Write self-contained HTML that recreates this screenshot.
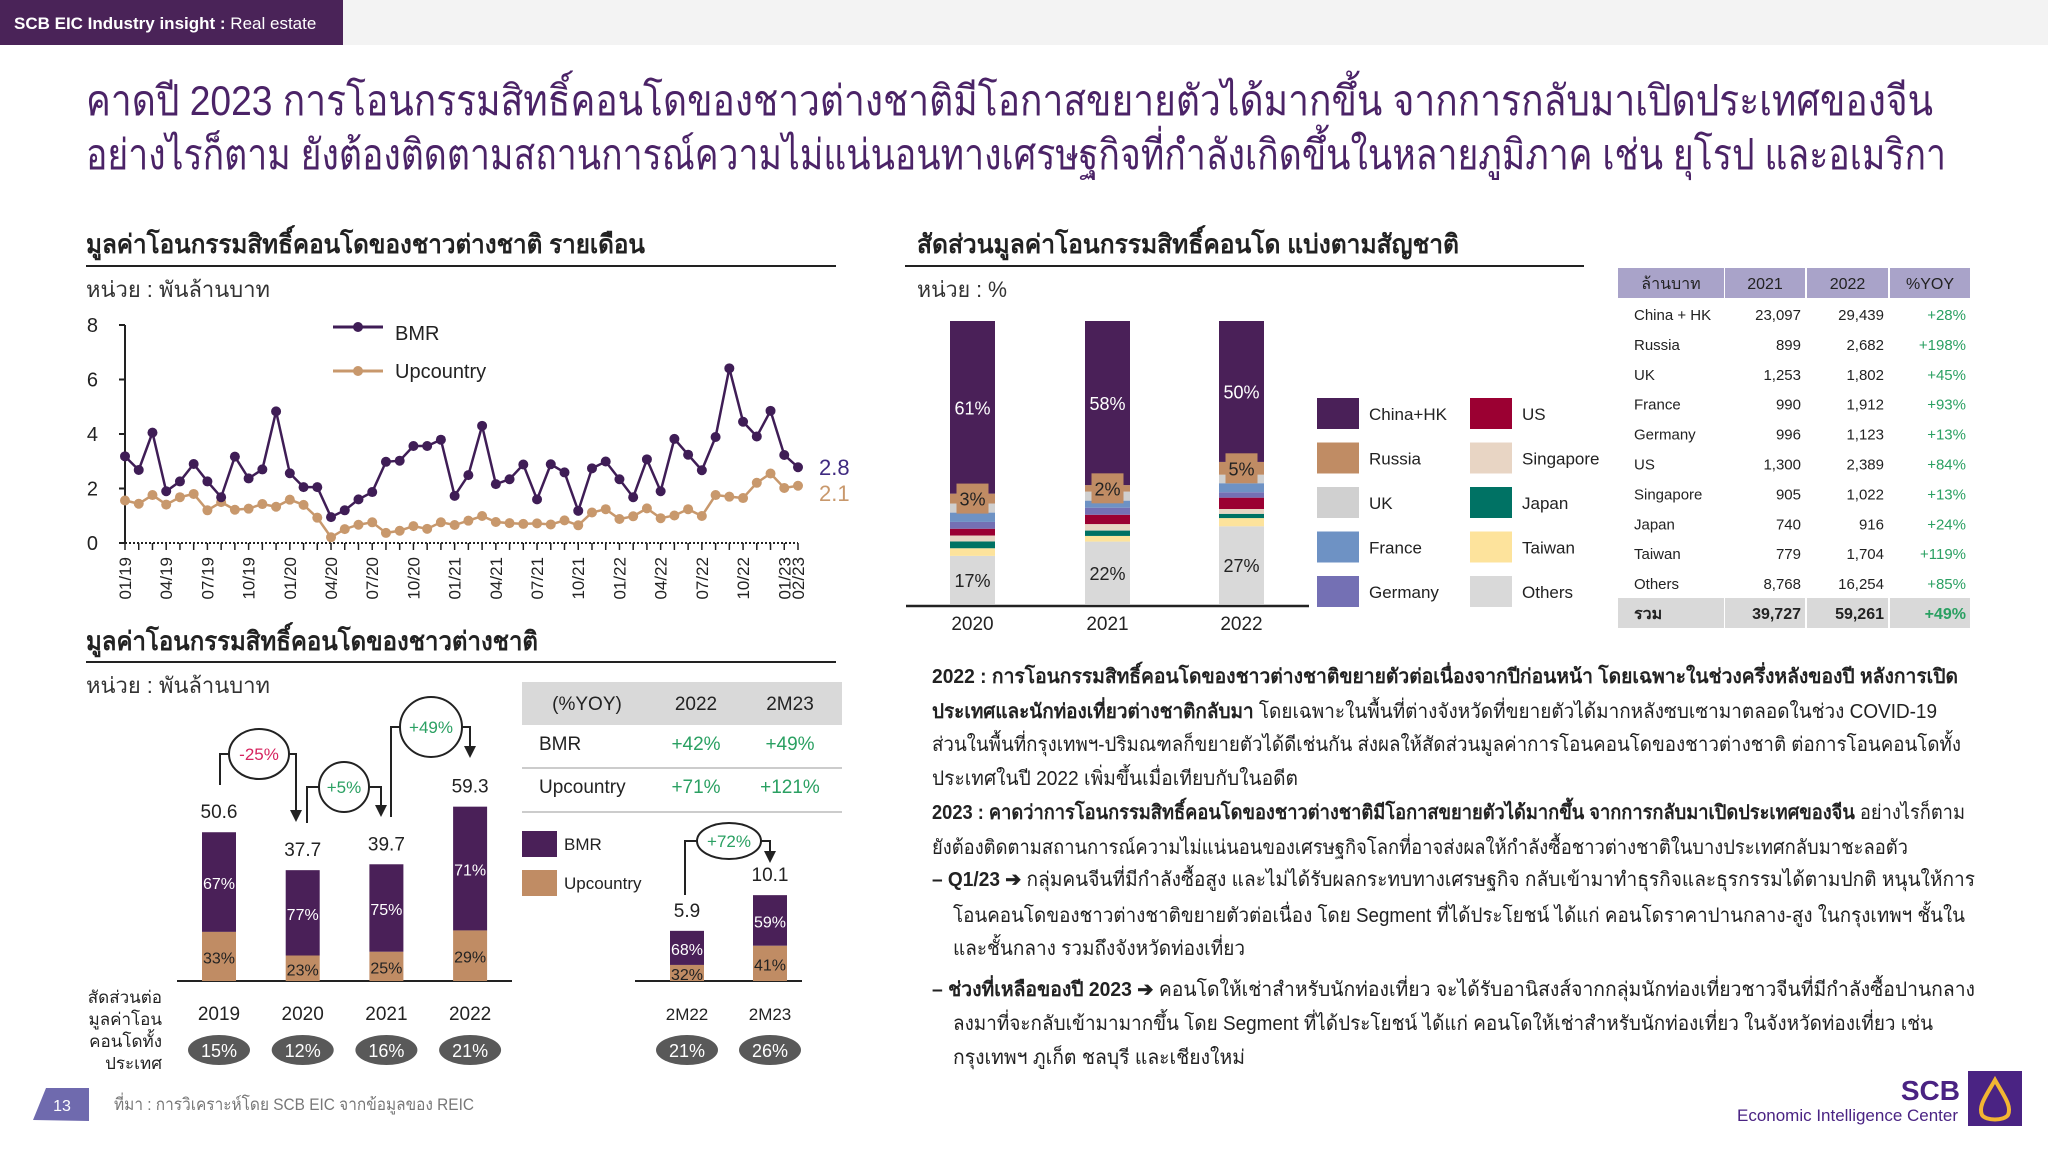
<!DOCTYPE html>
<html><head><meta charset="utf-8">
<style>
html,body{margin:0;padding:0;background:#fff;}
svg{display:block;font-family:"Liberation Sans","Noto Sans CJK SC",sans-serif;}
</style></head>
<body>
<svg id="page" width="2048" height="1152" viewBox="0 0 2048 1152" xmlns="http://www.w3.org/2000/svg">
<rect width="2048" height="1152" fill="#fff"/>
<rect x="0" y="0" width="2048" height="45" fill="#f3f3f3"/>
<rect x="0" y="0" width="343" height="45" fill="#4a2358"/>
<text x="14" y="29" font-size="17" fill="#fff"><tspan font-weight="bold">SCB EIC Industry insight : </tspan>Real estate</text>

<g fill="#4b2367" font-size="42">
<text x="86" y="115" textLength="1847" lengthAdjust="spacingAndGlyphs">คาดปี 2023 การโอนกรรมสิทธิ์คอนโดของชาวต่างชาติมีโอกาสขยายตัวได้มากขึ้น จากการกลับมาเปิดประเทศของจีน</text>
<text x="86" y="169" textLength="1860" lengthAdjust="spacingAndGlyphs">อย่างไรก็ตาม ยังต้องติดตามสถานการณ์ความไม่แน่นอนทางเศรษฐกิจที่กำลังเกิดขึ้นในหลายภูมิภาค เช่น ยุโรป และอเมริกา</text>
</g>

<text x="86" y="253" font-size="26" font-weight="bold" fill="#222" textLength="559" lengthAdjust="spacingAndGlyphs">มูลค่าโอนกรรมสิทธิ์คอนโดของชาวต่างชาติ รายเดือน</text>
<line x1="86" y1="266" x2="836" y2="266" stroke="#222" stroke-width="2"/>
<text x="86" y="297" font-size="22" fill="#333" textLength="184" lengthAdjust="spacingAndGlyphs">หน่วย : พันล้านบาท</text>

<text x="86" y="650" font-size="26" font-weight="bold" fill="#222" textLength="452" lengthAdjust="spacingAndGlyphs">มูลค่าโอนกรรมสิทธิ์คอนโดของชาวต่างชาติ</text>
<line x1="86" y1="662" x2="836" y2="662" stroke="#222" stroke-width="2"/>
<text x="86" y="693" font-size="22" fill="#333" textLength="184" lengthAdjust="spacingAndGlyphs">หน่วย : พันล้านบาท</text>

<text x="917" y="253" font-size="26" font-weight="bold" fill="#222" textLength="542" lengthAdjust="spacingAndGlyphs">สัดส่วนมูลค่าโอนกรรมสิทธิ์คอนโด แบ่งตามสัญชาติ</text>
<line x1="905" y1="266" x2="1584" y2="266" stroke="#222" stroke-width="2"/>
<text x="917" y="297" font-size="22" fill="#333" textLength="90" lengthAdjust="spacingAndGlyphs">หน่วย : %</text>

<g id="lineChart"></g>
<g id="barChart"></g>
<g id="stackChart"></g>
<g id="natTable"></g>

<g font-size="19" fill="#222">
<rect x="522" y="682" width="320" height="43" fill="#d9d9d9"/>
<text x="587" y="710" text-anchor="middle">(%YOY)</text>
<text x="696" y="710" text-anchor="middle">2022</text>
<text x="790" y="710" text-anchor="middle">2M23</text>
<text x="539" y="750">BMR</text>
<text x="696" y="750" text-anchor="middle" fill="#2aa062">+42%</text>
<text x="790" y="750" text-anchor="middle" fill="#2aa062">+49%</text>
<line x1="522" y1="768" x2="842" y2="768" stroke="#ccc" stroke-width="2"/>
<text x="539" y="793">Upcountry</text>
<text x="696" y="793" text-anchor="middle" fill="#2aa062">+71%</text>
<text x="790" y="793" text-anchor="middle" fill="#2aa062">+121%</text>
<line x1="522" y1="812" x2="842" y2="812" stroke="#ccc" stroke-width="2"/>
</g>
<g font-size="17" fill="#222">
<rect x="522" y="831" width="35" height="26" fill="#4a2058"/><text x="564" y="850">BMR</text>
<rect x="522" y="870" width="35" height="26" fill="#c08c64"/><text x="564" y="889">Upcountry</text>
</g>

<g id="commentary" font-size="20" fill="#222">
<text x="932" y="683" textLength="1026" lengthAdjust="spacingAndGlyphs"><tspan font-weight="bold">2022 : การโอนกรรมสิทธิ์คอนโดของชาวต่างชาติขยายตัวต่อเนื่องจากปีก่อนหน้า โดยเฉพาะในช่วงครึ่งหลังของปี หลังการเปิด</tspan></text>
<text x="932" y="718" textLength="1005" lengthAdjust="spacingAndGlyphs"><tspan font-weight="bold">ประเทศและนักท่องเที่ยวต่างชาติกลับมา</tspan> โดยเฉพาะในพื้นที่ต่างจังหวัดที่ขยายตัวได้มากหลังซบเซามาตลอดในช่วง COVID-19</text>
<text x="932" y="751" textLength="1029" lengthAdjust="spacingAndGlyphs">ส่วนในพื้นที่กรุงเทพฯ-ปริมณฑลก็ขยายตัวได้ดีเช่นกัน ส่งผลให้สัดส่วนมูลค่าการโอนคอนโดของชาวต่างชาติ ต่อการโอนคอนโดทั้ง</text>
<text x="932" y="785" textLength="366" lengthAdjust="spacingAndGlyphs">ประเทศในปี 2022 เพิ่มขึ้นเมื่อเทียบกับในอดีต</text>
<text x="932" y="819" textLength="1033" lengthAdjust="spacingAndGlyphs"><tspan font-weight="bold">2023 : คาดว่าการโอนกรรมสิทธิ์คอนโดของชาวต่างชาติมีโอกาสขยายตัวได้มากขึ้น จากการกลับมาเปิดประเทศของจีน</tspan> อย่างไรก็ตาม</text>
<text x="932" y="854" textLength="976" lengthAdjust="spacingAndGlyphs">ยังต้องติดตามสถานการณ์ความไม่แน่นอนของเศรษฐกิจโลกที่อาจส่งผลให้กำลังซื้อชาวต่างชาติในบางประเทศกลับมาชะลอตัว</text>
<text x="932" y="886" textLength="1043" lengthAdjust="spacingAndGlyphs"><tspan font-weight="bold">– Q1/23 ➔</tspan> กลุ่มคนจีนที่มีกำลังซื้อสูง และไม่ได้รับผลกระทบทางเศรษฐกิจ กลับเข้ามาทำธุรกิจและธุรกรรมได้ตามปกติ หนุนให้การ</text>
<text x="953" y="922" textLength="1012" lengthAdjust="spacingAndGlyphs">โอนคอนโดของชาวต่างชาติขยายตัวต่อเนื่อง โดย Segment ที่ได้ประโยชน์ ได้แก่ คอนโดราคาปานกลาง-สูง ในกรุงเทพฯ ชั้นใน</text>
<text x="953" y="955" textLength="292" lengthAdjust="spacingAndGlyphs">และชั้นกลาง รวมถึงจังหวัดท่องเที่ยว</text>
<text x="932" y="996" textLength="1043" lengthAdjust="spacingAndGlyphs"><tspan font-weight="bold">– ช่วงที่เหลือของปี 2023 ➔</tspan> คอนโดให้เช่าสำหรับนักท่องเที่ยว จะได้รับอานิสงส์จากกลุ่มนักท่องเที่ยวชาวจีนที่มีกำลังซื้อปานกลาง</text>
<text x="953" y="1030" textLength="980" lengthAdjust="spacingAndGlyphs">ลงมาที่จะกลับเข้ามามากขึ้น โดย Segment ที่ได้ประโยชน์ ได้แก่ คอนโดให้เช่าสำหรับนักท่องเที่ยว ในจังหวัดท่องเที่ยว เช่น</text>
<text x="953" y="1064" textLength="292" lengthAdjust="spacingAndGlyphs">กรุงเทพฯ ภูเก็ต ชลบุรี และเชียงใหม่</text>
</g>

<polygon points="33,1120 46,1088 89,1088 89,1121" fill="#6f6aae"/>
<text x="62" y="1111" font-size="16" fill="#fff" text-anchor="middle">13</text>
<text x="114" y="1110" font-size="17" fill="#777" textLength="360" lengthAdjust="spacingAndGlyphs">ที่มา : การวิเคราะห์โดย SCB EIC จากข้อมูลของ REIC</text>
<text x="1960" y="1100" font-size="28" font-weight="bold" fill="#4a2383" text-anchor="end">SCB</text>
<text x="1958" y="1121" font-size="17" fill="#4a2383" text-anchor="end" textLength="221" lengthAdjust="spacingAndGlyphs">Economic Intelligence Center</text>
<g>
<rect x="1968" y="1071" width="54" height="55" fill="#4a2383"/>
<path d="M1995 1080 C1986 1096 1978 1106 1982 1115 C1986 1121 2004 1121 2008 1115 C2012 1106 2004 1096 1995 1080 Z" fill="none" stroke="#f2b632" stroke-width="4"/>
</g>

<script>
var NS="http://www.w3.org/2000/svg";
function mk(parent,tag,attrs,txt){var e=document.createElementNS(NS,tag);for(var k in attrs)e.setAttribute(k,attrs[k]);if(txt!==undefined)e.textContent=txt;parent.appendChild(e);return e;}

var monthLabels=["01/19","02/19","03/19","04/19","05/19","06/19","07/19","08/19","09/19","10/19","11/19","12/19","01/20","02/20","03/20","04/20","05/20","06/20","07/20","08/20","09/20","10/20","11/20","12/20","01/21","02/21","03/21","04/21","05/21","06/21","07/21","08/21","09/21","10/21","11/21","12/21","01/22","02/22","03/22","04/22","05/22","06/22","07/22","08/22","09/22","10/22","11/22","12/22","01/23","02/23"];
var bmrValues=[3.18,2.68,4.05,1.9,2.26,2.9,2.26,1.68,3.17,2.37,2.7,4.83,2.56,2.05,2.05,0.95,1.2,1.6,1.87,2.98,3.02,3.56,3.56,3.79,1.73,2.49,4.3,2.16,2.34,2.88,1.6,2.89,2.59,1.18,2.74,2.99,2.34,1.68,3.07,1.9,3.82,3.24,2.67,3.89,6.41,4.45,3.91,4.85,3.23,2.78];
var upcountryValues=[1.56,1.44,1.76,1.41,1.68,1.8,1.2,1.5,1.22,1.26,1.43,1.33,1.59,1.4,0.93,0.21,0.51,0.67,0.76,0.37,0.45,0.62,0.52,0.76,0.66,0.82,0.99,0.77,0.73,0.7,0.72,0.68,0.83,0.65,1.12,1.24,0.88,0.98,1.27,0.91,1.01,1.24,0.99,1.76,1.7,1.65,2.21,2.55,2.02,2.1];
var yTicks=[0,2,4,6,8];
var labeledMonths=[0,3,6,9,12,15,18,21,24,27,30,33,36,39,42,45,48,49];

var yearCats=["2019","2020","2021","2022"];
var yearTotals=[50.6,37.7,39.7,59.3];
var yearUpShare=[33,23,25,29];
var yearForeignShare=["15%","12%","16%","21%"];
var ytdCats=["2M22","2M23"];
var ytdTotals=[5.9,10.1];
var ytdUpShare=[32,41];
var ytdForeignShare=["21%","26%"];

var stackYears=["2020","2021","2022"];
var nations=["Others","Taiwan","Japan","Singapore","US","Germany","France","UK","Russia","China+HK"];
var nationColors=["#d9d9d9","#fde39c","#007264","#e8d5c4","#9b0032","#7470b4","#6e92c4","#d0d0d0","#c08c64","#4a2058"];
var share2020=[17,2.7,2.4,2.1,2.4,2.4,3.3,3.2,3.5,61];
var share2021=[22.1,2.0,1.9,2.3,3.3,2.5,2.5,3.2,2.3,58.1];
var share2022=[27.4,2.9,1.5,1.7,4.0,1.9,3.2,3.0,4.5,49.7];
var shares=[share2020,share2021,share2022];
var chinaLabels=["61%","58%","50%"];
var russiaLabels=["3%","2%","5%"];
var othersLabels=["17%","22%","27%"];

var tblNames=["China + HK","Russia","UK","France","Germany","US","Singapore","Japan","Taiwan","Others"];
var tbl2021=["23,097","899","1,253","990","996","1,300","905","740","779","8,768"];
var tbl2022=["29,439","2,682","1,802","1,912","1,123","2,389","1,022","916","1,704","16,254"];
var tblYoy=["+28%","+198%","+45%","+93%","+13%","+84%","+13%","+24%","+119%","+85%"];

(function(){
 var g=document.getElementById("lineChart");
 var x0=125,x1=798,y0=543,yPer=27.25;
 function X(i){return x0+i*(x1-x0)/(monthLabels.length-1);}
 function Y(v){return y0-v*yPer;}
 mk(g,"line",{x1:x0,y1:Y(8),x2:x0,y2:y0,stroke:"#222","stroke-width":2});
 mk(g,"line",{x1:x0,y1:y0,x2:x1,y2:y0,stroke:"#222","stroke-width":2,"stroke-dasharray":"2,2"});
 yTicks.forEach(function(t){
  mk(g,"line",{x1:x0-6,y1:Y(t),x2:x0,y2:Y(t),stroke:"#222","stroke-width":2});
  var tl=mk(g,"text",{x:98,y:Y(t)+7,"font-size":20,fill:"#222","text-anchor":"end"},String(t));
  
  
 });
 monthLabels.forEach(function(m,i){
  mk(g,"line",{x1:X(i),y1:y0,x2:X(i),y2:y0+7,stroke:"#222","stroke-width":1.5});
 });
 labeledMonths.forEach(function(i){
  var t=mk(g,"text",{x:0,y:0,"font-size":17,fill:"#222","text-anchor":"end",transform:"translate("+(X(i)+6)+","+(y0+14)+") rotate(-90)"},monthLabels[i]);
  
  
 });
 function series(vals,color,name){
  var pts=vals.map(function(v,i){return X(i)+","+Y(v);}).join(" ");
  var pl=mk(g,"polyline",{points:pts,fill:"none",stroke:color,"stroke-width":2.5});
  
  
  vals.forEach(function(v,i){
   var c=mk(g,"circle",{cx:X(i),cy:Y(v),r:5,fill:color});
   
   
  });
 }
 series(upcountryValues,"#c8986c","upcountry");
 series(bmrValues,"#3f1d56","bmr");
 var lb=mk(g,"text",{x:819,y:475,"font-size":22,fill:"#3f2a80"},bmrValues[bmrValues.length-1].toFixed(1));
 
 
 var lu=mk(g,"text",{x:819,y:501,"font-size":22,fill:"#c8986c"},upcountryValues[upcountryValues.length-1].toFixed(1));
 
 
 mk(g,"line",{x1:333,y1:327,x2:383,y2:327,stroke:"#3f1d56","stroke-width":3});
 mk(g,"circle",{cx:358,cy:327,r:5,fill:"#3f1d56"});
 var l1=mk(g,"text",{x:395,y:340,"font-size":20,fill:"#222"},"BMR");
 
 
 mk(g,"line",{x1:333,y1:371,x2:383,y2:371,stroke:"#c8986c","stroke-width":3});
 mk(g,"circle",{cx:358,cy:371,r:5,fill:"#c8986c"});
 var l2=mk(g,"text",{x:395,y:378,"font-size":20,fill:"#222"},"Upcountry");
 
 
})();

(function(){
 var g=document.getElementById("barChart");
 var base=981,bw=34;
 function bars(cats,totals,up,pills,x0,step,scale,fs){
  cats.forEach(function(c,i){
   var cx=x0+i*step,h=totals[i]*scale,hu=h*up[i]/100;
   var r1=mk(g,"rect",{x:cx-bw/2,y:base-h,width:bw,height:h-hu,fill:"#4a2058"});
   
   
   var r2=mk(g,"rect",{x:cx-bw/2,y:base-hu,width:bw,height:hu,fill:"#c08c64"});
   
   
   mk(g,"text",{x:cx,y:base-hu-(h-hu)/2+7,"font-size":16,fill:"#fff","text-anchor":"middle"},(100-up[i])+"%");
   mk(g,"text",{x:cx,y:base-hu/2+7,"font-size":16,fill:"#222","text-anchor":"middle"},up[i]+"%");
   var v=mk(g,"text",{x:cx,y:base-h-14,"font-size":19,fill:"#222","text-anchor":"middle"},totals[i].toFixed(1));
   
   
   mk(g,"text",{x:cx,y:1020,"font-size":fs,fill:"#222","text-anchor":"middle"},c);
   var p=mk(g,"ellipse",{cx:cx,cy:1050,rx:31,ry:15,fill:"#595959"});
   
   
   mk(g,"text",{x:cx,y:1057,"font-size":18,fill:"#fff","text-anchor":"middle"},pills[i]);
  });
 }
 mk(g,"line",{x1:177,y1:base,x2:512,y2:base,stroke:"#222","stroke-width":2});
 mk(g,"line",{x1:635,y1:base,x2:802,y2:base,stroke:"#222","stroke-width":2});
 bars(yearCats,yearTotals,yearUpShare,yearForeignShare,219,83.7,2.94,19);
 bars(ytdCats,ytdTotals,ytdUpShare,ytdForeignShare,687,83,8.5,17);
 function arrow(xs,ys,cx,cy,xe,ye,label,color,rx,ry){
  mk(g,"polyline",{points:xs+","+ys+" "+xs+","+cy+" "+(cx-rx)+","+cy,fill:"none",stroke:"#222","stroke-width":2});
  mk(g,"polyline",{points:(cx+rx)+","+cy+" "+xe+","+cy+" "+xe+","+(ye-10),fill:"none",stroke:"#222","stroke-width":2});
  mk(g,"polygon",{points:(xe-6)+","+(ye-12)+" "+(xe+6)+","+(ye-12)+" "+xe+","+ye,fill:"#222"});
  var e=mk(g,"ellipse",{cx:cx,cy:cy,rx:rx,ry:ry,fill:"#fff",stroke:"#222","stroke-width":2});
  
  
  mk(g,"text",{x:cx,y:cy+6,"font-size":17,fill:color,"text-anchor":"middle"},label);
 }
 arrow(220,785,259,754,296,822,"-25%","#d6245f",30,25);
 arrow(307,823,344,787,381,817,"+5%","#2aa062",25,25);
 arrow(391,817,431,727,470,758,"+49%","#2aa062",31,30);
 arrow(685,895,729,841,770,863,"+72%","#2aa062",32,18);
 var lines=["สัดส่วนต่อ","มูลค่าโอน","คอนโดทั้ง","ประเทศ"];
 lines.forEach(function(s,i){mk(g,"text",{x:162,y:1003+i*22,"font-size":17,fill:"#222","text-anchor":"end"},s);});
})();

(function(){
 var g=document.getElementById("stackChart");
 var top=321,bot=604,bw=45,xs=[950,1085,1219];
 mk(g,"line",{x1:906,y1:606,x2:1309,y2:606,stroke:"#222","stroke-width":2.5});
 stackYears.forEach(function(yr,j){
  var y=bot,tot=shares[j].reduce(function(a,b){return a+b;},0),ypos={};
  shares[j].forEach(function(s,k){
   var h=(bot-top)*s/tot;
   var r=mk(g,"rect",{x:xs[j],y:y-h,width:bw,height:h,fill:nationColors[k]});
   
   
   ypos[k]=[y-h,h];
   y-=h;
  });
  var cx=xs[j]+bw/2;
  mk(g,"text",{x:cx,y:ypos[9][0]+ypos[9][1]/2+7,"font-size":18,fill:"#fff","text-anchor":"middle"},chinaLabels[j]);
  var ry=ypos[8][0]+ypos[8][1]/2;
  mk(g,"rect",{x:cx-16,y:ry-15,width:32,height:30,fill:"#c08c64"});
  mk(g,"text",{x:cx,y:ry+7,"font-size":18,fill:"#222","text-anchor":"middle"},russiaLabels[j]);
  mk(g,"text",{x:cx,y:ypos[0][0]+ypos[0][1]/2+7,"font-size":18,fill:"#222","text-anchor":"middle"},othersLabels[j]);
  var yl=mk(g,"text",{x:cx,y:630,"font-size":19,fill:"#222","text-anchor":"middle"},yr);
  
  
 });
 var legendOrder=[9,4,8,3,7,2,6,1,5,0];
 legendOrder.forEach(function(k,n){
  var col=n%2,row=Math.floor(n/2);
  var x=col?1470:1317,y=398+row*44.5;
  var r=mk(g,"rect",{x:x,y:y,width:42,height:31,fill:nationColors[k]});
  
  
  mk(g,"text",{x:x+52,y:y+22,"font-size":17,fill:"#222"},nations[k]);
 });
})();

(function(){
 var g=document.getElementById("natTable");
 var cols=[[1618,106],[1725,80],[1807,81],[1890,80]];
 var hdr=["ล้านบาท","2021","2022","%YOY"];
 cols.forEach(function(c,i){
  mk(g,"rect",{x:c[0],y:268,width:c[1],height:30,fill:"#a9a3c9"});
  mk(g,"text",{x:c[0]+c[1]/2,y:289,"font-size":16,fill:"#222","text-anchor":"middle"},hdr[i]);
 });
 tblNames.forEach(function(n,i){
  var y=314+i*29.9+6;
  mk(g,"text",{x:1634,y:y,"font-size":15,fill:"#222"},n);
  mk(g,"text",{x:1801,y:y,"font-size":15,fill:"#222","text-anchor":"end"},tbl2021[i]);
  mk(g,"text",{x:1884,y:y,"font-size":15,fill:"#222","text-anchor":"end"},tbl2022[i]);
  mk(g,"text",{x:1966,y:y,"font-size":15,fill:"#2aa062","text-anchor":"end"},tblYoy[i]);
 });
 cols.forEach(function(c){mk(g,"rect",{x:c[0],y:598,width:c[1],height:30,fill:"#d9d9d9"});});
 mk(g,"text",{x:1634,y:619,"font-size":16,"font-weight":"bold",fill:"#222"},"รวม");
 mk(g,"text",{x:1801,y:619,"font-size":16,"font-weight":"bold",fill:"#222","text-anchor":"end"},"39,727");
 mk(g,"text",{x:1884,y:619,"font-size":16,"font-weight":"bold",fill:"#222","text-anchor":"end"},"59,261");
 mk(g,"text",{x:1966,y:619,"font-size":16,"font-weight":"bold",fill:"#2aa062","text-anchor":"end"},"+49%");
})();
</script>
</svg>
</body></html>
